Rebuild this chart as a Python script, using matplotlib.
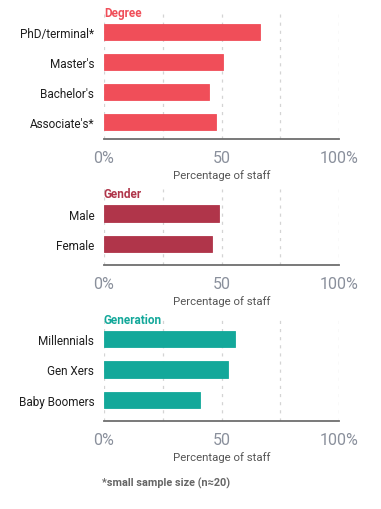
import matplotlib
matplotlib.use("Agg")
import matplotlib.pyplot as plt

plt.rcParams['font.family'] = ['Roboto', 'DejaVu Sans']

degree_cats = ["PhD/terminal*", "Master's", "Bachelor's", "Associate's*"]
degree_vals = [66.5, 50.6, 44.8, 47.7]
gender_cats = ["Male", "Female"]
gender_vals = [48.9, 46.0]
gen_cats = ["Millennials", "Gen Xers", "Baby Boomers"]
gen_vals = [55.7, 52.8, 41.0]
tick_vals = [0, 50, 100]
tick_labels = ["0%", "50", "100%"]

W, H = 381, 510
fig = plt.figure(figsize=(W / 100, H / 100), dpi=100)

def panel(title, cats, vals, color, top, bottom, c0, sp, title_y):
    x0, x1 = 104, 339
    ax = fig.add_axes([x0 / W, 1 - bottom / H, (x1 - x0) / W, (bottom - top) / H])
    ys = list(range(len(cats)))
    ax.barh(ys, vals, height=0.53, color=color, edgecolor=color, linewidth=0.6, zorder=3)
    ax.set_xlim(0, 100)
    ax.set_ylim((bottom - c0) / sp, -(c0 - top) / sp)
    for gx in [0, 25, 50, 75, 100]:
        ax.axvline(gx, color='#d4d4d4', lw=0.9, ls=(0, (2.5, 4)), zorder=1)
    for s in ['top', 'right', 'left']:
        ax.spines[s].set_visible(False)
    ax.spines['bottom'].set_color('#6e6e6e')
    ax.spines['bottom'].set_linewidth(1.3)
    ax.set_yticks(ys)
    ax.set_yticklabels(cats, fontsize=8.5, color='#1e1e1e')
    ax.tick_params(axis='y', length=0, pad=7)
    ax.set_xticks(tick_vals)
    ax.set_xticklabels(tick_labels, fontsize=11.5, color='#8a909c')
    ax.tick_params(axis='x', length=0, pad=8)
    ax.set_xlabel("Percentage of staff", fontsize=8.2, color='#555555', labelpad=3)
    ax.text(0, (title_y - c0) / sp, title, transform=ax.transData, fontsize=8.5,
            fontweight='bold', color=color, va='center', ha='left', zorder=5)
    return ax

panel("Degree", degree_cats, degree_vals, '#F04E59', 10, 140, 33, 30, 13)
panel("Gender", gender_cats, gender_vals, '#B0354A', 190, 266, 214.5, 30.5, 195)
panel("Generation", gen_cats, gen_vals, '#13A89A', 320, 422, 340, 30.5, 321)

fig.text(102 / W, 1 - 483 / H, "*small sample size (n≈20)", fontsize=7.8,
         fontweight='bold', color='#666666', va='center', ha='left')

fig.savefig("out.png", dpi=100, facecolor='white')
